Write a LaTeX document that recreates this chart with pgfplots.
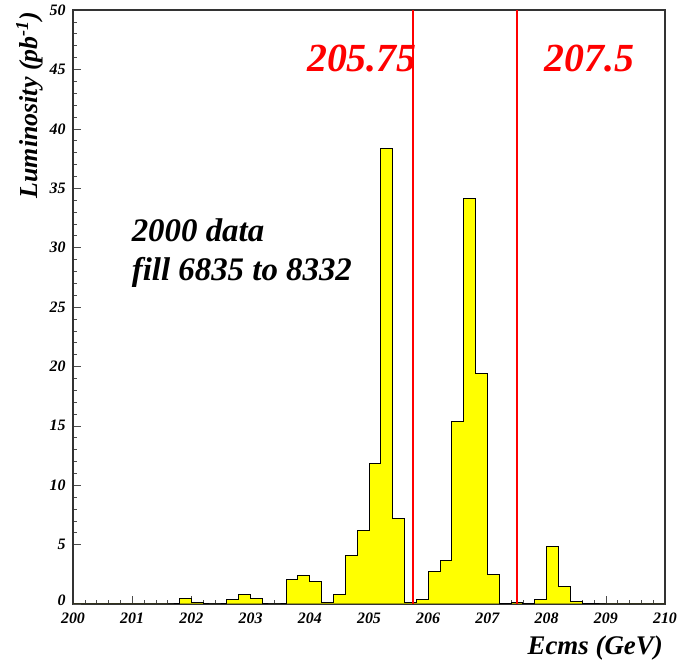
\documentclass[border=0pt]{standalone}
\usepackage{pgfplots}
\pgfplotsset{compat=1.18}
\usepackage{fontspec}
\setmainfont{Liberation Serif}
\definecolor{rootred}{RGB}{255,0,0}
\definecolor{rootyellow}{RGB}{255,255,0}
\begin{document}
\begin{tikzpicture}
\begin{axis}[
  scale only axis,
  width=592bp, height=594bp,
  xmin=200, xmax=210, ymin=0, ymax=50,
  xtick={200,201,...,210},
  ytick={5,10,...,50},
  extra y ticks={0},
  extra y tick style={yticklabel style={yshift=4bp}},
  minor x tick num=4,
  minor y tick num=4,
  tick align=inside,
  tick pos=left,
  major tick length=8bp,
  minor tick length=4bp,
  axis line style={line width=1.2pt, black!80},
  every tick/.style={black!70, line width=0.5pt},
  /pgf/number format/assume math mode=true,
  /pgf/number format/1000 sep={},
  ticklabel style={font=\fontsize{16}{16}\selectfont\bfseries\itshape},
  yticklabel style={xshift=-4bp},
  xticklabel style={yshift=-5bp},
  clip=false,
]
\addplot[const plot, fill=rootyellow, draw=black, line width=1pt] coordinates {
(200.0,0) (200.2,0) (200.4,0) (200.6,0) (200.8,0)
(201.0,0) (201.2,0) (201.4,0) (201.6,0) (201.8,0.5)
(202.0,0.15) (202.2,0) (202.4,0) (202.6,0.34) (202.8,0.79)
(203.0,0.48) (203.2,0) (203.4,0) (203.6,2.05) (203.8,2.44)
(204.0,1.9) (204.2,0.15) (204.4,0.76) (204.6,4.05) (204.8,6.15)
(205.0,11.8) (205.2,38.3) (205.4,7.2) (205.6,0.1) (205.8,0.35)
(206.0,2.7) (206.2,3.7) (206.4,15.4) (206.6,34.1) (206.8,19.4)
(207.0,2.5) (207.2,0.05) (207.4,0.15) (207.6,0.05) (207.8,0.4)
(208.0,4.8) (208.2,1.45) (208.4,0.2) (208.6,0.05) (208.8,0)
(209.0,0) (209.2,0) (209.4,0) (209.6,0) (209.8,0) (210.0,0)
} \closedcycle;
\addplot[ycomb, draw=rootred, line width=2pt, mark=none] coordinates {(205.75,50) (207.5,50)};
\node[anchor=base, text=rootred, font=\fontsize{40}{40}\selectfont\bfseries\itshape, inner sep=0pt] at (axis cs:204.88,44.8) {205.75};
\node[anchor=base, text=rootred, font=\fontsize{40}{40}\selectfont\bfseries\itshape, inner sep=0pt] at (axis cs:208.73,44.8) {207.5};
\node[anchor=base west, font=\fontsize{33}{33}\selectfont\bfseries\itshape, inner sep=0pt] at (axis cs:200.99,30.5) {2000 data};
\node[anchor=base west, font=\fontsize{33}{33}\selectfont\bfseries\itshape, inner sep=0pt] at (axis cs:200.99,27.2) {fill 6835 to 8332};
\node[rotate=90, anchor=south east, inner sep=0pt, font=\fontsize{26}{26}\selectfont\bfseries\itshape] at ([xshift=-30bp,yshift=-2bp]rel axis cs:0,1) {Luminosity (pb\textsuperscript{-1})};
\node[anchor=base east, inner sep=0pt, font=\fontsize{27}{27}\selectfont\bfseries\itshape] at ([xshift=-2bp,yshift=-51bp]rel axis cs:1,0) {Ecms (GeV)};
\end{axis}
\pgfresetboundingbox
\path (current axis.south west) ++(-73bp,-57bp) coordinate (bbA);
\path (current axis.north east) ++(12bp,10bp) coordinate (bbB);
\path[use as bounding box] (bbA) rectangle (bbB);
\end{tikzpicture}
\end{document}
